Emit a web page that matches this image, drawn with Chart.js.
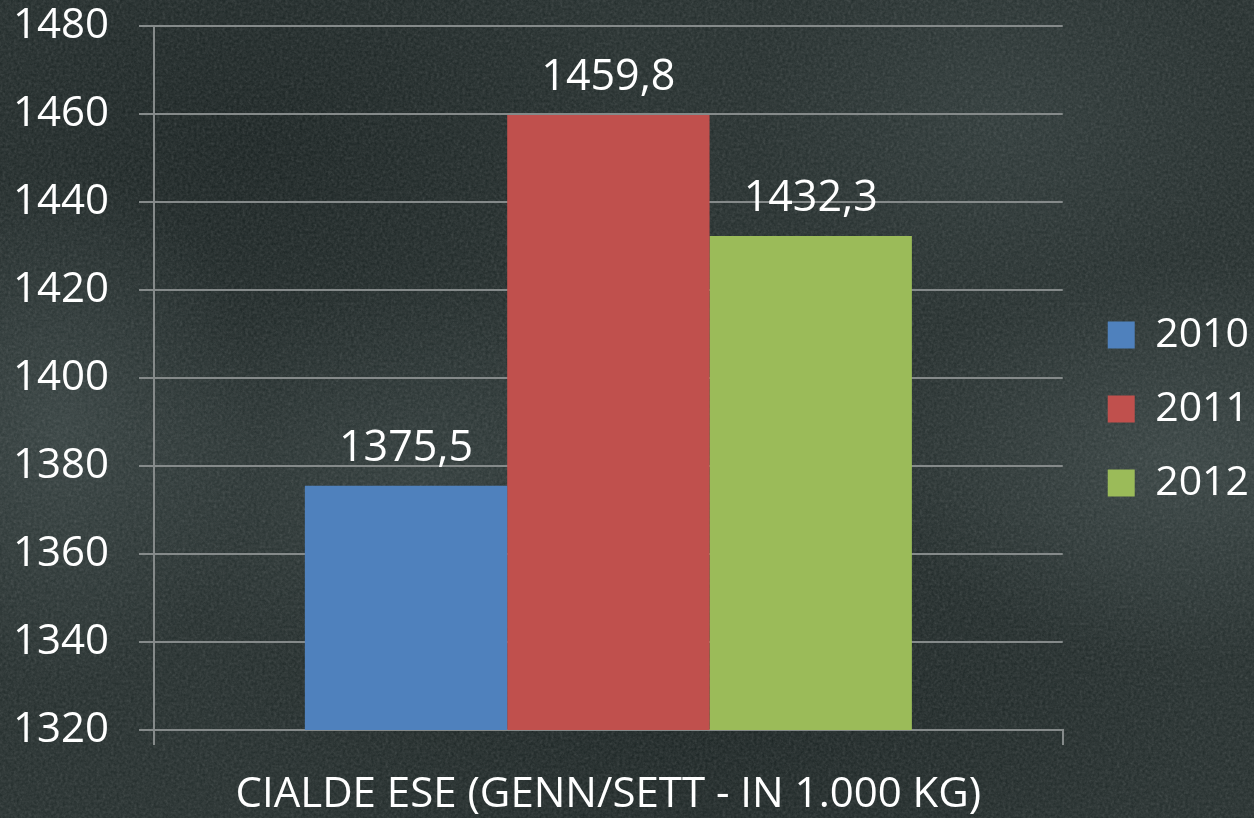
<!DOCTYPE html>
<html>
<head>
<meta charset="utf-8">
<script src="https://cdn.jsdelivr.net/npm/chart.js@4"></script>
<style>
	html, body {
		margin: 0;
		padding: 0;
		width: 1254px;
		height: 818px;
		overflow: hidden;
	}
	body {
		background-color: #222c2b;
		background-image:
			radial-gradient(ellipse 200px 260px at 60px 430px, rgba(85, 100, 100, 0.35), transparent),
			radial-gradient(ellipse 300px 200px at 420px 480px, rgba(80, 95, 95, 0.25), transparent),
			radial-gradient(ellipse 300px 200px at 1180px 460px, rgba(90, 105, 105, 0.35), transparent),
			radial-gradient(ellipse 400px 300px at 250px 150px, rgba(10, 18, 18, 0.45), transparent),
			radial-gradient(ellipse 500px 250px at 700px 700px, rgba(10, 18, 18, 0.4), transparent),
			radial-gradient(ellipse 250px 200px at 1000px 120px, rgba(75, 90, 90, 0.25), transparent);
	}
	#noise {
		position: absolute;
		left: 0;
		top: 0;
		width: 1254px;
		height: 818px;
		opacity: 0.2;
	}
	#chart {
		position: absolute;
		left: 0;
		top: 0;
		width: 1254px;
		height: 818px;
	}
</style>
</head>
<body>
<svg id="noise" width="1254" height="818">
	<filter id="chalk">
		<feTurbulence type="fractalNoise" baseFrequency="0.35" numOctaves="3" seed="4"/>
		<feColorMatrix type="saturate" values="0"/>
	</filter>
	<rect width="1254" height="818" filter="url(#chalk)"/>
</svg>
<div id="chart"><canvas></canvas></div>
<script>
// Chart data.
const categories = ["CIALDE ESE (GENN/SETT - IN 1.000 KG)"];
const years = ["2010", "2011", "2012"];
const values2010 = [1375.5];
const values2011 = [1459.8];
const values2012 = [1432.3];
const yTicks = [1320, 1340, 1360, 1380, 1400, 1420, 1440, 1460, 1480];

const colors = ["#4f81bd", "#c0504d", "#9bbb59"];
const gridColor = "#858a8a";
const fontFamily = "'Open Sans', sans-serif";
const fontSize = 42;

// Draw the value above each bar, with a comma as decimal separator.
const valueLabels = {
	id: 'valueLabels',
	afterDatasetsDraw(chart) {
		const ctx = chart.ctx;
		ctx.save();
		ctx.fillStyle = "#ffffff";
		ctx.font = "43px " + fontFamily;
		ctx.textAlign = "center";
		ctx.textBaseline = "alphabetic";
		chart.data.datasets.forEach(function (dataset, i) {
			chart.getDatasetMeta(i).data.forEach(function (bar, j) {
				const text = dataset.data[j].toFixed(1).replace(".", ",");
				ctx.fillText(text, bar.x, bar.y - 25);
			});
		});
		ctx.restore();
	}
};

// Push the legend a bit further away from the plot area.
const legendShift = {
	id: 'legendShift',
	afterLayout(chart) {
		chart.legend.left += 12;
		chart.legend.right += 12;
	}
};

const canvas = document.querySelector('#chart canvas').getContext('2d');
const chart = new Chart(canvas, {
	type: 'bar',
	data: {
		labels: categories,
		datasets: [
			{ label: years[0], data: values2010, backgroundColor: colors[0] },
			{ label: years[1], data: values2011, backgroundColor: colors[1] },
			{ label: years[2], data: values2012, backgroundColor: colors[2] }
		]
	},
	options: {
		responsive: true,
		maintainAspectRatio: false,
		animation: false,
		layout: {
			padding: { left: 0, top: 0, right: 7, bottom: 0 }
		},
		datasets: {
			bar: {
				categoryPercentage: 0.668,
				barPercentage: 1.0
			}
		},
		plugins: {
			legend: {
				position: 'right',
				labels: {
					color: "#ffffff",
					font: { family: fontFamily, size: 41 },
					boxWidth: 27,
					boxHeight: 27,
					padding: 33
				}
			},
			tooltip: { enabled: false }
		},
		scales: {
			x: {
				afterFit: function (axis) {
					axis.height = 88;
				},
				grid: {
					offset: true,
					drawOnChartArea: false,
					color: gridColor,
					lineWidth: 2,
					tickLength: 15
				},
				border: { color: gridColor, width: 2 },
				ticks: {
					color: "#ffffff",
					font: { family: fontFamily, size: fontSize },
					padding: 25
				}
			},
			y: {
				min: yTicks[0],
				max: yTicks[yTicks.length - 1],
				afterBuildTicks: function (axis) {
					axis.ticks = yTicks.map(v => ({ value: v }));
				},
				afterFit: function (axis) {
					// Only keep half a label of room above and below.
					axis.paddingTop = 26;
					axis.paddingBottom = 24;
					axis.width = 154;
				},
				grid: {
					color: gridColor,
					lineWidth: 2,
					tickLength: 15
				},
				border: { color: gridColor, width: 2 },
				ticks: {
					color: "#ffffff",
					font: { family: fontFamily, size: fontSize },
					padding: 30,
					callback: function (value) {
						return String(value);
					}
				}
			}
		}
	},
	plugins: [valueLabels, legendShift]
});
</script>
</body>
</html>
